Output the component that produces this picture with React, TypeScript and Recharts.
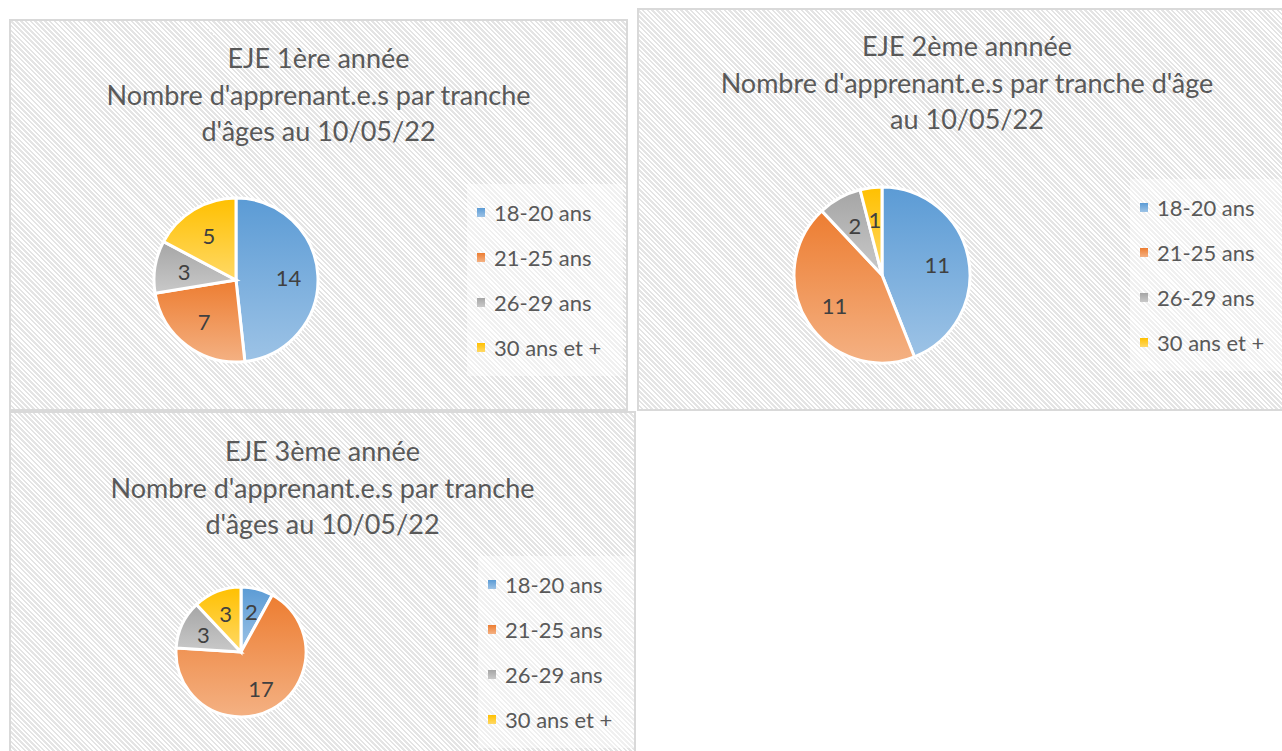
import { PieChart, Pie, Cell, Legend } from "recharts";

const categories = ["18-20 ans", "21-25 ans", "26-29 ans", "30 ans et +"];
const valuesYear1 = [14, 7, 3, 5];
const valuesYear2 = [11, 11, 2, 1];
const valuesYear3 = [2, 17, 3, 3];

const titleYear1 = ["EJE 1ère année", "Nombre d'apprenant.e.s par tranche", "d'âges au 10/05/22"];
const titleYear2 = ["EJE 2ème annnée", "Nombre d'apprenant.e.s par tranche d'âge", "au 10/05/22"];
const titleYear3 = ["EJE 3ème année", "Nombre d'apprenant.e.s par tranche", "d'âges au 10/05/22"];

// top colour, bottom colour of each slice gradient
const GRADIENTS = [
  ["#5B9BD5", "#9DC3E6"],
  ["#ED7D31", "#F4B183"],
  ["#A5A5A5", "#C9C9C9"],
  ["#FFC000", "#FFD966"],
];

const FONT = "Lato, 'Open Sans', sans-serif";
const RADIAN = Math.PI / 180;

const stripes =
  "repeating-linear-gradient(45deg, #ffffff 0px, #ffffff 1.6px, #e4e4e4 1.6px, #e4e4e4 3.4px)";

type PanelProps = {
  id: string;
  values: number[];
  title: string[];
  left: number;
  top: number;
  width: number;
  height: number;
  titleTop: number;
  cx: number;
  cy: number;
  radius: number;
  legendLeft: number;
  legendTop: number;
};

const renderLabel = (props: any) => {
  const { cx, cy, midAngle, outerRadius, value } = props;
  const r = outerRadius * 0.64;
  const x = cx + r * Math.cos(-midAngle * RADIAN);
  const y = cy + r * Math.sin(-midAngle * RADIAN);
  return (
    <text
      x={x}
      y={y}
      fill='#404040'
      fontSize={22}
      fontFamily={FONT}
      textAnchor='middle'
      dominantBaseline='central'
    >
      {value}
    </text>
  );
};

const LegendList = () => (
  <div
    style={{
      background: "rgba(255,255,255,0.45)",
      padding: "6px 10px 6px 10px",
      width: 136,
    }}
  >
    {categories.map((name, i) => (
      <div
        key={name}
        style={{
          display: "flex",
          alignItems: "center",
          height: 45,
          fontFamily: FONT,
          fontSize: 22,
          color: "#595959",
          whiteSpace: "nowrap",
        }}
      >
        <span
          style={{
            display: "inline-block",
            width: 8,
            height: 9,
            marginRight: 9,
            background: `linear-gradient(${GRADIENTS[i][0]}, ${GRADIENTS[i][1]})`,
          }}
        />
        {name}
      </div>
    ))}
  </div>
);

const Panel = (p: PanelProps) => {
  const data = categories.map((name, i) => ({ name, value: p.values[i] }));
  return (
    <div
      style={{
        position: "absolute",
        left: p.left,
        top: p.top,
        width: p.width,
        height: p.height,
        boxSizing: "border-box",
        border: "2px solid #d9d9d9",
        background: stripes,
        overflow: "hidden",
      }}
    >
      <div
        style={{
          position: "absolute",
          left: 0,
          top: p.titleTop,
          width: "100%",
          textAlign: "center",
          fontFamily: FONT,
          fontSize: 27,
          lineHeight: "36.5px",
          color: "#595959",
        }}
      >
        {p.title.map((line) => (
          <div key={line}>{line}</div>
        ))}
      </div>
      <div style={{ position: "absolute", left: 0, top: 0 }}>
        <PieChart
          width={p.width - 4}
          height={p.height - 4}
          margin={{ top: 0, right: 0, bottom: 0, left: 0 }}
        >
          <defs>
            {GRADIENTS.map((g, i) => (
              <linearGradient key={i} id={`${p.id}-g${i}`} x1='0' y1='0' x2='0' y2='1'>
                <stop offset='0%' stopColor={g[0]} />
                <stop offset='100%' stopColor={g[1]} />
              </linearGradient>
            ))}
          </defs>
          <Pie
            data={data}
            dataKey='value'
            nameKey='name'
            cx={p.cx}
            cy={p.cy}
            outerRadius={p.radius}
            startAngle={90}
            endAngle={-270}
            stroke='#ffffff'
            strokeWidth={3}
            label={renderLabel}
            labelLine={false}
            isAnimationActive={false}
          >
            {data.map((d, i) => (
              <Cell key={d.name} fill={`url(#${p.id}-g${i})`} />
            ))}
          </Pie>
          <Legend
            content={() => <LegendList />}
            wrapperStyle={{ left: p.legendLeft, top: p.legendTop, width: "auto", bottom: "auto" }}
          />
        </PieChart>
      </div>
    </div>
  );
};

export default function App() {
  return (
    <div
      style={{
        position: "absolute",
        left: 0,
        top: 0,
        width: 1282,
        height: 751,
        background: "#ffffff",
        overflow: "hidden",
      }}
    >
      <Panel
        id='y1'
        values={valuesYear1}
        title={titleYear1}
        left={9}
        top={19}
        width={619}
        height={392}
        titleTop={19}
        cx={225}
        cy={259}
        radius={82}
        legendLeft={456}
        legendTop={163}
      />
      <Panel
        id='y2'
        values={valuesYear2}
        title={titleYear2}
        left={637}
        top={8}
        width={660}
        height={403}
        titleTop={18}
        cx={243}
        cy={265}
        radius={88}
        legendLeft={491}
        legendTop={169}
      />
      <Panel
        id='y3'
        values={valuesYear3}
        title={titleYear3}
        left={9}
        top={411}
        width={627}
        height={360}
        titleTop={20}
        cx={230}
        cy={239}
        radius={65}
        legendLeft={467}
        legendTop={143}
      />
    </div>
  );
}
